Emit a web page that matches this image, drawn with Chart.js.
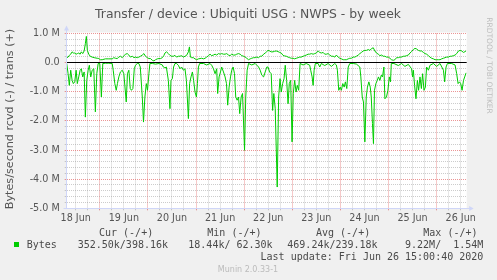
<!DOCTYPE html>
<html>
<head>
<meta charset="utf-8">
<script src="https://cdn.jsdelivr.net/npm/chart.js@4"></script>
<style>
  body { margin: 0; background: #f0f0f0; }
  canvas { display: block; }
</style>
</head>
<body>
<canvas id="grafico" width="497" height="280"></canvas>
<script>
// horas contadas a partir de 18 Jun 2020 00:00, valores em MB/s
const inicioHoras = 7.5;
const fimHoras = 207;

const rcvdHoras = [7.5, 8.2, 8.8, 9.5, 10.2, 10.8, 11.5, 12.2, 12.8, 13.5, 14.2, 14.8, 15.5, 16.2, 16.8, 17.5, 18.2, 18.8, 19.5, 20.2, 21.0, 21.8, 22.5, 23.2, 24.0, 24.8, 25.5, 26.8, 28.5, 30.2, 30.7, 31.5, 32.2, 32.8, 33.5, 34.3, 35.2, 36.0, 37.2, 37.8, 38.5, 39.2, 39.8, 40.5, 41.2, 41.8, 42.7, 43.5, 44.2, 45.2, 45.8, 46.5, 47.2, 47.8, 48.5, 49.0, 50.2, 51.8, 53.5, 55.2, 55.7, 56.5, 57.2, 58.2, 59.0, 59.5, 60.2, 60.8, 61.5, 62.3, 63.2, 64.0, 64.8, 65.7, 66.5, 67.2, 68.2, 68.8, 69.5, 70.2, 70.8, 71.5, 72.2, 72.7, 73.2, 73.8, 75.7, 77.3, 79.0, 79.8, 80.7, 81.5, 82.3, 82.8, 83.5, 84.2, 84.8, 85.7, 86.5, 87.2, 87.8, 88.5, 89.2, 89.8, 90.5, 91.2, 91.8, 92.5, 93.2, 93.8, 94.5, 95.2, 96.2, 96.8, 97.5, 98.2, 99.8, 101.5, 103.2, 104.0, 104.8, 105.7, 106.5, 107.3, 107.9, 108.7, 109.5, 110.2, 110.8, 111.5, 112.5, 113.2, 113.9, 114.5, 115.2, 115.9, 116.5, 117.2, 117.9, 118.5, 119.2, 119.9, 120.5, 121.2, 121.9, 122.5, 123.2, 123.9, 125.4, 127.0, 128.7, 129.2, 129.9, 130.4, 130.9, 131.5, 132.9, 133.7, 134.5, 136.2, 137.9, 139.5, 141.2, 142.0, 142.5, 143.2, 143.9, 144.5, 145.2, 145.9, 146.5, 147.2, 147.9, 148.7, 150.4, 152.0, 153.7, 154.2, 154.9, 155.5, 156.2, 156.9, 157.5, 158.2, 158.9, 159.4, 160.0, 160.5, 161.0, 161.7, 162.4, 163.0, 163.7, 164.4, 165.0, 165.7, 166.2, 167.0, 167.7, 168.4, 169.0, 169.4, 170.7, 172.9, 174.5, 176.2, 177.9, 179.5, 180.0, 180.4, 181.0, 181.7, 182.4, 183.0, 183.7, 184.4, 185.0, 185.7, 186.4, 187.0, 187.9, 188.7, 190.4, 192.0, 193.7, 195.4, 196.0, 196.7, 197.4, 199.5, 201.2, 202.0, 202.7, 203.4, 204.0, 204.7, 205.4, 206.0, 206.7];
const rcvdValores = [-0.03, -0.38, -0.78, -0.26, -0.61, -0.72, -0.66, -0.26, -0.72, -0.49, -0.26, -0.21, -0.49, -0.32, -1.87, -0.61, -0.26, -0.09, -0.49, -0.26, -0.21, -1.69, -0.38, -0.03, -0.03, -1.18, -0.03, -0.02, -0.02, -0.03, -0.26, -0.72, -0.95, -0.72, -0.49, -0.32, -0.26, -0.38, -1.35, -0.38, -0.26, -0.89, -0.95, -0.89, -0.21, -0.09, -0.03, -0.03, -0.15, -1.18, -2.04, -1.18, -0.72, -0.95, -0.38, -0.03, -0.03, -0.05, -0.03, -0.08, -0.15, -0.18, -0.15, -0.61, -1.58, -0.61, -0.55, -0.15, -0.03, -0.03, -0.09, -0.21, -0.15, -0.26, -0.21, -0.61, -1.92, -0.72, -0.49, -0.32, -0.61, -1.01, -1.18, -0.72, -0.15, -0.03, -0.03, -0.08, -0.03, -0.09, -0.21, -0.38, -0.21, -1.06, -0.49, -0.32, -0.15, -0.32, -0.49, -0.72, -1.46, -0.84, -0.49, -0.26, -0.15, -0.38, -1.18, -1.29, -1.18, -1.75, -1.18, -1.06, -3.01, -1.18, -0.26, -0.03, -0.08, -0.03, -0.15, -0.26, -0.43, -0.49, -0.32, -0.15, -0.15, -0.32, -0.38, -1.64, -1.06, -1.58, -4.27, -1.18, -0.55, -1.01, -0.72, -0.55, -0.09, -0.61, -1.41, -0.72, -0.61, -2.72, -1.06, -0.61, -1.01, -0.78, -0.95, -0.03, -0.08, -0.03, -0.09, -0.26, -0.49, -0.78, -0.26, -0.03, -0.03, -0.15, -0.03, -0.10, -0.03, -0.13, -0.03, -0.08, -0.26, -0.95, -0.84, -0.95, -0.72, -0.84, -0.66, -0.89, -0.15, -0.03, -0.03, -0.05, -0.15, -0.49, -1.18, -1.35, -2.72, -1.18, -0.84, -0.66, -0.84, -1.18, -2.09, -2.78, -0.95, -0.72, -0.61, -0.49, -0.61, -0.43, -0.49, -0.15, -1.24, -1.18, -0.95, -0.49, -0.66, -0.03, -0.03, -0.10, -0.03, -0.13, -0.06, -0.21, -0.49, -0.26, -0.78, -1.24, -0.61, -0.95, -0.49, -0.89, -0.38, -0.95, -0.84, -0.15, -0.26, -0.09, -0.03, -0.13, -0.03, -0.26, -0.66, -0.15, -0.03, -0.03, -0.08, -0.38, -0.72, -0.66, -0.72, -0.95, -0.61, -0.49, -0.35];

const transHoras = [7.5, 8.2, 8.8, 9.5, 10.2, 10.8, 11.5, 12.2, 12.8, 13.5, 14.2, 14.8, 15.5, 16.2, 16.8, 17.3, 17.8, 18.5, 19.2, 20.2, 21.2, 22.7, 23.5, 24.3, 25.2, 26.8, 28.5, 30.2, 31.0, 31.8, 32.7, 33.5, 34.3, 35.2, 36.0, 36.8, 37.7, 38.5, 39.3, 40.2, 41.0, 41.8, 42.7, 43.5, 44.3, 45.2, 46.0, 46.8, 47.7, 48.5, 49.3, 50.2, 51.0, 51.8, 52.7, 53.5, 54.3, 55.2, 56.0, 56.5, 57.3, 58.2, 59.0, 59.8, 60.7, 61.5, 62.3, 63.2, 64.0, 64.8, 65.7, 66.5, 67.3, 68.2, 68.7, 69.2, 69.8, 70.7, 71.5, 72.3, 73.2, 74.0, 74.8, 75.7, 76.5, 77.3, 78.2, 79.0, 79.8, 80.7, 81.5, 82.3, 83.2, 84.0, 84.8, 85.7, 86.5, 87.3, 88.2, 89.0, 89.8, 90.7, 91.5, 92.3, 93.2, 94.0, 94.8, 95.7, 96.5, 97.3, 98.2, 99.0, 99.8, 100.7, 101.5, 102.3, 103.2, 104.0, 104.8, 105.7, 106.5, 107.3, 107.9, 108.7, 109.5, 110.4, 111.2, 112.0, 112.9, 113.7, 114.5, 115.4, 116.2, 117.0, 117.9, 118.7, 119.5, 120.4, 121.2, 122.0, 122.9, 123.7, 124.5, 125.4, 126.2, 127.0, 127.9, 128.7, 129.5, 130.4, 131.2, 132.0, 132.9, 133.7, 134.5, 135.4, 136.2, 137.0, 137.9, 138.7, 139.5, 140.4, 141.2, 142.0, 142.9, 143.7, 144.5, 145.4, 146.2, 147.0, 147.9, 148.7, 149.5, 150.4, 151.2, 152.0, 152.9, 153.7, 154.5, 155.4, 156.2, 157.0, 157.9, 158.7, 159.5, 160.4, 161.2, 162.0, 162.9, 163.7, 164.5, 165.4, 166.2, 167.0, 167.9, 168.7, 169.5, 170.4, 171.2, 172.0, 172.9, 173.7, 174.5, 175.4, 176.2, 177.0, 177.9, 178.7, 179.5, 180.4, 181.2, 182.0, 182.9, 183.7, 184.5, 185.4, 186.2, 187.0, 187.9, 188.7, 189.5, 190.4, 191.2, 192.0, 192.9, 193.7, 194.5, 195.4, 196.2, 197.0, 197.9, 198.7, 199.5, 200.4, 201.2, 202.0, 202.9, 203.7, 204.5, 205.4, 206.2, 206.7];
const transValores = [0.17, 0.19, 0.25, 0.29, 0.37, 0.33, 0.33, 0.29, 0.31, 0.33, 0.29, 0.37, 0.31, 0.40, 0.65, 0.90, 0.42, 0.29, 0.22, 0.19, 0.17, 0.15, 0.14, 0.10, 0.10, 0.13, 0.13, 0.13, 0.17, 0.15, 0.14, 0.19, 0.22, 0.17, 0.23, 0.29, 0.31, 0.26, 0.19, 0.22, 0.17, 0.19, 0.17, 0.19, 0.22, 0.26, 0.31, 0.22, 0.17, 0.14, 0.14, 0.08, 0.06, 0.10, 0.13, 0.14, 0.14, 0.17, 0.25, 0.33, 0.37, 0.31, 0.25, 0.22, 0.22, 0.25, 0.19, 0.22, 0.22, 0.24, 0.19, 0.22, 0.25, 0.37, 0.54, 0.19, 0.17, 0.17, 0.13, 0.10, 0.13, 0.14, 0.15, 0.13, 0.15, 0.19, 0.24, 0.29, 0.24, 0.26, 0.29, 0.26, 0.31, 0.29, 0.31, 0.29, 0.29, 0.31, 0.26, 0.24, 0.29, 0.26, 0.26, 0.29, 0.31, 0.29, 0.24, 0.22, 0.19, 0.15, 0.10, 0.13, 0.15, 0.17, 0.17, 0.19, 0.17, 0.22, 0.22, 0.29, 0.33, 0.38, 0.42, 0.40, 0.37, 0.37, 0.39, 0.40, 0.38, 0.35, 0.33, 0.25, 0.23, 0.22, 0.19, 0.17, 0.15, 0.15, 0.13, 0.15, 0.17, 0.19, 0.19, 0.22, 0.24, 0.26, 0.29, 0.29, 0.31, 0.29, 0.31, 0.33, 0.40, 0.35, 0.33, 0.35, 0.29, 0.29, 0.31, 0.26, 0.22, 0.22, 0.19, 0.26, 0.19, 0.15, 0.13, 0.10, 0.10, 0.10, 0.13, 0.15, 0.15, 0.19, 0.19, 0.22, 0.26, 0.31, 0.35, 0.40, 0.42, 0.42, 0.45, 0.42, 0.48, 0.51, 0.40, 0.33, 0.29, 0.24, 0.26, 0.22, 0.22, 0.19, 0.19, 0.15, 0.10, 0.08, 0.10, 0.17, 0.17, 0.19, 0.19, 0.22, 0.22, 0.24, 0.26, 0.33, 0.38, 0.45, 0.49, 0.47, 0.42, 0.40, 0.40, 0.35, 0.31, 0.29, 0.24, 0.19, 0.15, 0.13, 0.10, 0.10, 0.10, 0.10, 0.13, 0.15, 0.17, 0.19, 0.19, 0.22, 0.22, 0.24, 0.26, 0.31, 0.40, 0.42, 0.40, 0.35, 0.38, 0.40];

const cabecalhoLegenda = ["Cur (-/+)", "Min (-/+)", "Avg (-/+)", "Max (-/+)"];
const valoresLegenda = ["352.50k/398.16k", "18.44k/ 62.30k", "469.24k/239.18k", "9.22M/  1.54M"];

// linhas de grade: a cada 6 horas e a cada 0.2 M
const gradeHoras = [];
for (let h = 12; h <= fimHoras; h += 6) gradeHoras.push(h);
const gradeValores = [];
for (let i = -25; i <= 5; i++) gradeValores.push(i / 5);

const verde = "#00cc00";
const corTexto = "#555555";
const corGrade = "rgba(143, 143, 143, 0.45)";
const corGradeMaior = "rgba(222, 79, 79, 0.6)";
const corEixo = "#cfd6f8";

Chart.defaults.font.family = "DejaVu Sans";

const muninPlugin = {
  id: "munin",
  beforeDraw(chart) {
    const { ctx, chartArea } = chart;
    ctx.save();
    ctx.fillStyle = "#f0f0f0";
    ctx.fillRect(0, 0, chart.width, chart.height);
    ctx.fillStyle = "#ffffff";
    ctx.fillRect(chartArea.left, chartArea.top - 1, chartArea.right - chartArea.left, chartArea.bottom - chartArea.top + 1);
    ctx.restore();
  },
  afterDatasetsDraw(chart) {
    const { ctx, chartArea, scales } = chart;
    const y0 = Math.round(scales.y.getPixelForValue(0) - 0.5) + 0.5;
    const xEixo = Math.round(chartArea.left - 0.5) + 0.5;
    const yEixo = Math.round(chartArea.bottom - 0.5) + 0.5;
    ctx.save();
    // linha do zero
    ctx.strokeStyle = "#000000";
    ctx.lineWidth = 1;
    ctx.beginPath();
    ctx.moveTo(chartArea.left, y0);
    ctx.lineTo(chartArea.right, y0);
    ctx.stroke();
    // eixos com setas
    ctx.strokeStyle = corEixo;
    ctx.fillStyle = corEixo;
    ctx.beginPath();
    ctx.moveTo(xEixo, yEixo);
    ctx.lineTo(xEixo, chartArea.top - 4);
    ctx.moveTo(xEixo - 3, yEixo);
    ctx.lineTo(chartArea.right + 4, yEixo);
    ctx.stroke();
    ctx.beginPath();
    ctx.moveTo(xEixo, chartArea.top - 8);
    ctx.lineTo(xEixo - 2.5, chartArea.top - 3);
    ctx.lineTo(xEixo + 2.5, chartArea.top - 3);
    ctx.closePath();
    ctx.fill();
    ctx.beginPath();
    ctx.moveTo(chartArea.right + 7, yEixo);
    ctx.lineTo(chartArea.right + 2.5, yEixo - 2.5);
    ctx.lineTo(chartArea.right + 2.5, yEixo + 2.5);
    ctx.closePath();
    ctx.fill();
    ctx.restore();
  },
  afterDraw(chart) {
    const { ctx } = chart;
    ctx.save();
    ctx.fillStyle = corTexto;
    ctx.textAlign = "center";
    ctx.textBaseline = "alphabetic";
    ctx.font = "12.4px 'DejaVu Sans'";
    ctx.fillText("Transfer / device : Ubiquiti USG : NWPS - by week", 248, 17.5);

    ctx.save();
    ctx.translate(10.5, 119);
    ctx.rotate(-Math.PI / 2);
    ctx.textBaseline = "middle";
    ctx.font = "11.2px 'DejaVu Sans'";
    ctx.fillText("Bytes/second rcvd (-) / trans (+)", 0, 0);
    ctx.restore();

    ctx.save();
    ctx.translate(489, 65.5);
    ctx.rotate(Math.PI / 2);
    ctx.textBaseline = "middle";
    ctx.fillStyle = "#bdbdbd";
    ctx.font = "7.5px 'DejaVu Sans'";
    ctx.fillText("RRDTOOL / TOBI OETIKER", 0, 0);
    ctx.restore();

    ctx.font = "10px 'DejaVu Sans Mono'";
    ctx.fillStyle = "#4a4a4a";
    ctx.textAlign = "left";
    const xCabecalho = [99, 207.3, 316, 423.3];
    cabecalhoLegenda.forEach((texto, i) => ctx.fillText(texto, xCabecalho[i], 236));
    ctx.fillText("Bytes", 26.7, 248);
    const xValores = [77.7, 188.3, 287.3];
    valoresLegenda.slice(0, 3).forEach((texto, i) => ctx.fillText(texto, xValores[i], 248));
    ctx.textAlign = "right";
    ctx.fillText(valoresLegenda[3], 483.3, 248);
    ctx.fillText("Last update: Fri Jun 26 15:00:40 2020", 483.3, 260);

    ctx.fillStyle = verde;
    ctx.fillRect(14, 242, 5, 5);

    ctx.textAlign = "center";
    ctx.fillStyle = "#bbbbbb";
    ctx.font = "8px 'DejaVu Sans'";
    ctx.fillText("Munin 2.0.33-1", 248, 272);
    ctx.restore();
  },
};

const pontos = (horas, valores) => horas.map((h, i) => ({ x: h, y: valores[i] }));

new Chart(document.getElementById("grafico").getContext("2d"), {
  type: "line",
  data: {
    datasets: [
      {
        label: "rcvd",
        data: pontos(rcvdHoras, rcvdValores),
        borderColor: verde,
        borderWidth: 1,
        pointRadius: 0,
        tension: 0,
      },
      {
        label: "trans",
        data: pontos(transHoras, transValores),
        borderColor: verde,
        borderWidth: 1,
        pointRadius: 0,
        tension: 0,
      },
    ],
  },
  options: {
    responsive: false,
    animation: false,
    devicePixelRatio: 1,
    layout: { padding: { left: 0, top: 33.5, right: 30.3, bottom: 0 } },
    plugins: { legend: { display: false }, tooltip: { enabled: false } },
    scales: {
      x: {
        type: "linear",
        min: inicioHoras,
        max: fimHoras,
        afterBuildTicks: (scale) => {
          scale.ticks = gradeHoras.map((v) => ({ value: v }));
        },
        afterFit: (scale) => {
          scale.height = 71.7;
        },
        grid: {
          color: (c) => (c.tick && c.tick.value % 24 === 0 ? corGradeMaior : corGrade),
          tickColor: (c) => (c.tick && c.tick.value % 24 === 0 ? corGradeMaior : corGrade),
          lineWidth: 1,
          tickLength: 2,
        },
        border: { display: false, dash: [1, 1] },
        ticks: {
          autoSkip: false,
          maxRotation: 0,
          padding: 2,
          color: corTexto,
          font: { size: 9.6 },
          callback: (v) => (v % 24 === 12 ? `${18 + Math.floor(v / 24)} Jun` : ""),
        },
      },
      y: {
        min: -5,
        max: 1,
        afterBuildTicks: (scale) => {
          scale.ticks = gradeValores.map((v) => ({ value: v }));
        },
        afterFit: (scale) => {
          scale.width = 66.7;
        },
        grid: {
          color: (c) => (c.tick && Math.abs(c.tick.value - Math.round(c.tick.value)) < 1e-6 ? corGradeMaior : corGrade),
          tickColor: (c) => (c.tick && Math.abs(c.tick.value - Math.round(c.tick.value)) < 1e-6 ? corGradeMaior : corGrade),
          lineWidth: 1,
          tickLength: 2,
        },
        border: { display: false, dash: [1, 1] },
        ticks: {
          autoSkip: false,
          padding: 5,
          color: corTexto,
          font: { size: 9.6 },
          callback: (v) => {
            const r = Math.round(v);
            if (Math.abs(v - r) > 1e-6) return "";
            return r === 0 ? "0.0" : `${r.toFixed(1)} M`;
          },
        },
      },
    },
  },
  plugins: [muninPlugin],
});
</script>
</body>
</html>
